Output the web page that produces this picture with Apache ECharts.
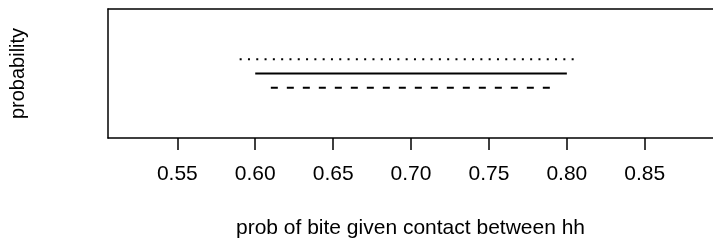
<!DOCTYPE html>
<html>
<head>
<meta charset="utf-8">
<script src="https://cdn.jsdelivr.net/npm/echarts@6/dist/echarts.min.js"></script>
<style>
  html, body { margin: 0; padding: 0; background: #fff; }
  #chart { width: 713px; height: 244px; }
</style>
</head>
<body>
<div id="chart"></div>
<script>
// tick positions on the x axis
const xTicks = [0.55, 0.60, 0.65, 0.70, 0.75, 0.80, 0.85]
const xLabels = ['0.55', '0.60', '0.65', '0.70', '0.75', '0.80', '0.85']

// each interval: [start, end] and its height on the probability axis
const dottedRange = [0.59, 0.807]
const dottedY = 0.61
const solidRange = [0.60, 0.80]
const solidY = 0.50
const dashedRange = [0.61, 0.79]
const dashedY = 0.39

const xMin = 0.5055
const xMax = 0.8938
const font = 'Liberation Sans, Arial, Helvetica, sans-serif'

const seg = (range, y) => range.map(x => [x, y])

const chart = echarts.init(document.getElementById('chart'))

chart.setOption({
  animation: false,
  grid: { left: 103.5, right: 0, top: 9, bottom: 101.3 },
  xAxis: [
    {
      type: 'value',
      min: xMin,
      max: xMax,
      name: 'prob of bite given contact between hh',
      nameLocation: 'middle',
      nameGap: 80,
      nameTextStyle: { color: '#000', fontSize: 21, fontFamily: font },
      axisLine: { show: true, lineStyle: { color: '#000', width: 1.5 } },
      axisTick: {
        show: true,
        length: 12,
        customValues: xTicks,
        lineStyle: { color: '#000', width: 1.5 }
      },
      axisLabel: {
        customValues: xTicks,
        margin: 26,
        color: '#000',
        fontSize: 21,
        fontFamily: font,
        formatter: function (value) {
          const i = xTicks.findIndex(t => Math.abs(t - value) < 1e-9)
          return i >= 0 ? xLabels[i] : ''
        }
      },
      splitLine: { show: false }
    },
    {
      type: 'value',
      position: 'top',
      min: xMin,
      max: xMax,
      axisLine: { show: true, lineStyle: { color: '#000', width: 1.5 } },
      axisTick: { show: false },
      axisLabel: { show: false },
      splitLine: { show: false }
    }
  ],
  yAxis: {
    type: 'value',
    min: 0,
    max: 1,
    name: 'probability',
    nameLocation: 'middle',
    nameGap: 80,
    nameTextStyle: { color: '#000', fontSize: 20, fontFamily: font },
    axisLine: { show: true, lineStyle: { color: '#000', width: 1.5 } },
    axisTick: { show: false },
    axisLabel: { show: false },
    splitLine: { show: false }
  },
  series: [
    {
      name: 'dotted',
      type: 'line',
      data: seg(dottedRange, dottedY),
      symbol: 'none',
      lineStyle: { color: '#000', width: 2, type: [2, 6.3] }
    },
    {
      name: 'solid',
      type: 'line',
      data: seg(solidRange, solidY),
      symbol: 'none',
      lineStyle: { color: '#000', width: 2, type: 'solid' }
    },
    {
      name: 'dashed',
      type: 'line',
      data: seg(dashedRange, dashedY),
      symbol: 'none',
      lineStyle: { color: '#000', width: 2, type: [7, 9] }
    }
  ]
})
</script>
</body>
</html>
